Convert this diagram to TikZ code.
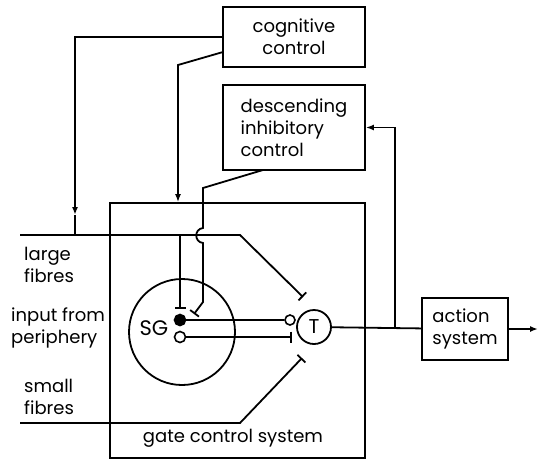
\documentclass[tikz,border=0pt]{standalone}
\usepackage{fontspec}
\setmainfont{Poppins}
\usetikzlibrary{arrows.meta,calc}
\begin{document}
\begin{tikzpicture}[x=1pt,y=-1pt,
  every node/.style={font=\fontsize{18}{22}\selectfont},
  wire/.style={line width=1.8pt},
  box/.style={draw,line width=1.8pt,inner sep=0pt},
  lbl/.style={inner sep=0pt,align=left,anchor=west},
  tip/.style={-{Latex[length=8pt,width=6pt]}},
  inhib/.style={-{Bar[width=11pt,line width=1.8pt]}},
  dot/.style={circle,draw,line width=1.6pt,inner sep=0pt,minimum size=11pt}]
\useasboundingbox (0,0) rectangle (544,459);

% boxes
\node[box,minimum width=142pt,minimum height=60pt,align=center] (cog) at (294,37) {cognitive\\control};
\node[box,minimum width=142pt,minimum height=85pt,align=left] (desc) at (294,127.5) {descending\\inhibitory\\control};
\node[box,minimum width=255pt,minimum height=255pt] (gate) at (237.5,330.5) {};
\node[inner sep=0pt] (gatelbl) at (233,438) {gate control system};
\node[box,minimum width=86pt,minimum height=62pt,align=left] (act) at (465,329) {action\\system};

% input labels
\node[lbl] (lfl) at (24,265) {large\\fibres};
\node[lbl] (inl) at (11,328) {input from\\periphery};
\node[lbl] (sfl) at (24,397) {small\\fibres};

% substantia gelatinosa and transmission cell
\node[circle,draw,line width=1.8pt,minimum size=106pt] (sg) at (182,332) {};
\node[inner sep=0pt,font=\fontsize{21}{22}\selectfont] (sgl) at (154,328) {SG};
\node[dot,fill=black] (fd) at (180,320) {};
\node[dot] (hd) at (180,337) {};
\node[dot,minimum size=10pt] (oc) at (290,320) {};
\node[circle,draw,line width=1.8pt,minimum size=34pt,inner sep=0pt,font=\fontsize{20}{22}\selectfont] (t) at (314,327) {T};

% coordinates of the fibre paths
\coordinate (lf0) at (20,235);
\coordinate (lf1) at (240,235);
\coordinate (lfe) at (303,297);
\coordinate (sf0) at (20,423);
\coordinate (sf1) at (240,423);
\coordinate (sfe) at (302,358);
\coordinate (lfb) at (180,235);
\coordinate (lfbe) at (180,309);
\coordinate (hde) at (292,337);

% large and small fibres
\draw[wire,inhib] (lf0) -- (lf1) -- (lfe);
\draw[wire,inhib] (sf0) -- (sf1) -- (sfe);
\draw[wire,inhib] (lfb) -- (lfbe);

% SG outputs to T
\draw[wire] (fd) -- (oc);
\draw[wire,inhib] (hd) -- (hde);

% cognitive control paths
\coordinate (cl1) at (75,37);
\coordinate (cl2) at (75,215);
\coordinate (lfj) at (75,235);
\draw[wire,tip] (cog.west) -- (cl1) -- (cl2);
\draw[wire] (cl2) -- (lfj);
\coordinate (c2s) at (223,52);
\coordinate (c2a) at (178,65);
\draw[wire,tip] (c2s) -- (c2a) -- (c2a |- gate.north);

% descending inhibitory path, hopping over the large fibres
\coordinate (d0) at (263,170);
\coordinate (d1) at (203,188);
\coordinate (d2) at (203,228);
\coordinate (d3) at (203,243);
\coordinate (d4) at (203,302);
\coordinate (d5) at (194,314);
\draw[wire,inhib] (d0) -- (d1) -- (d2) .. controls (194,229) and (194,242) .. (d3) -- (d4) -- (d5);

% output and feedback
\coordinate (fb) at (395,329);
\draw[wire] (t) -- (act);
\coordinate (out) at (538,329);
\draw[wire,tip] (act.east) -- (out);
\draw[wire,tip] (fb) -- (fb |- desc.east) -- (desc.east);
\end{tikzpicture}
\end{document}
